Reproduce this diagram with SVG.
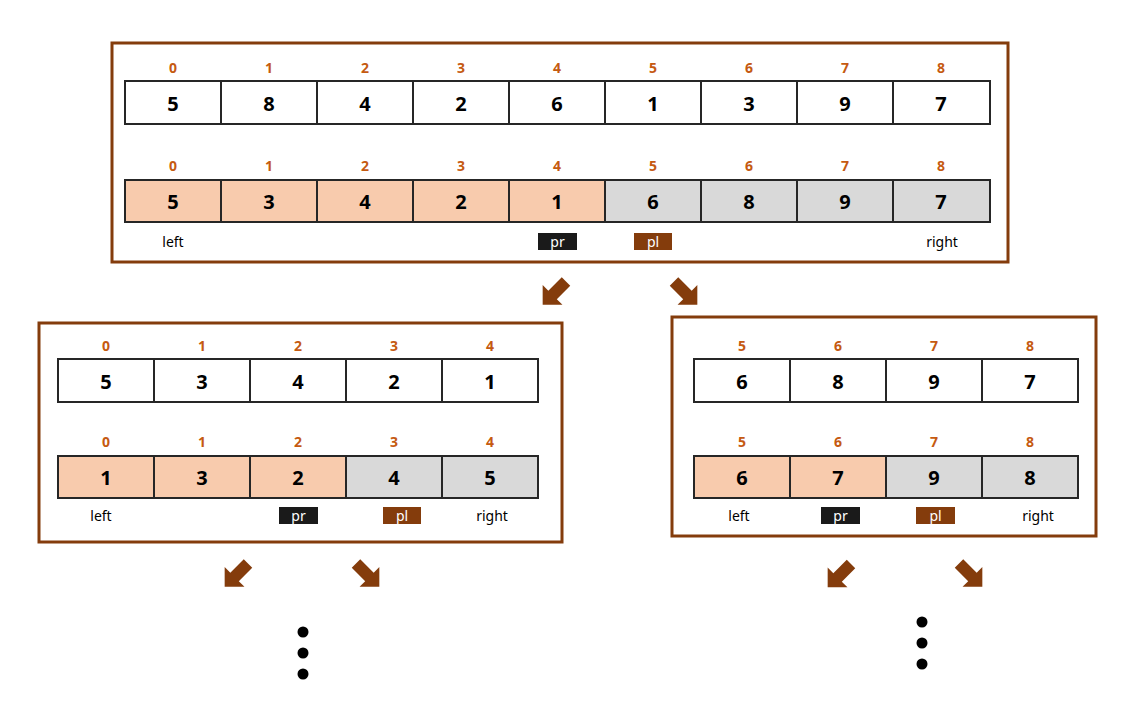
<svg xmlns="http://www.w3.org/2000/svg" width="1140" height="725" viewBox="0 0 1140 725">
<style>
.frame{fill:#fff;stroke:#843C0C;stroke-width:3}
.c{stroke:#262626;stroke-width:2}
.w{fill:#fff}.p{fill:#F8CBAD}.g{fill:#D9D9D9}
.v{font-family:"Noto Sans","DejaVu Sans",sans-serif;font-weight:bold;font-size:20px;fill:#000;text-anchor:middle}
.i{font-family:"Noto Sans","DejaVu Sans",sans-serif;font-weight:bold;font-size:14px;fill:#C55A11;text-anchor:middle}
.l{font-family:"Noto Sans","DejaVu Sans",sans-serif;font-size:14px;fill:#000;text-anchor:middle}
.t{font-family:"Noto Sans","DejaVu Sans",sans-serif;font-size:14px;fill:#fff;text-anchor:middle}
.arr{fill:#843C0C}
</style>
<defs>
<polygon id="ar" points="0,-6 19,-6 19,-14 33,0 19,14 19,6 0,6"/>
</defs>
<g id="top">
<rect class="frame" x="112" y="43" width="896" height="219"/>
<g>
<rect class="c w" x="125" y="81" width="96" height="43"/><rect class="c w" x="221" y="81" width="96" height="43"/><rect class="c w" x="317" y="81" width="96" height="43"/><rect class="c w" x="413" y="81" width="96" height="43"/><rect class="c w" x="509" y="81" width="96" height="43"/><rect class="c w" x="605" y="81" width="96" height="43"/><rect class="c w" x="701" y="81" width="96" height="43"/><rect class="c w" x="797" y="81" width="96" height="43"/><rect class="c w" x="893" y="81" width="97" height="43"/>
<text class="i" x="173" y="73">0</text><text class="i" x="269" y="73">1</text><text class="i" x="365" y="73">2</text><text class="i" x="461" y="73">3</text><text class="i" x="557" y="73">4</text><text class="i" x="653" y="73">5</text><text class="i" x="749" y="73">6</text><text class="i" x="845" y="73">7</text><text class="i" x="941" y="73">8</text>
<text class="v" x="173" y="111">5</text><text class="v" x="269" y="111">8</text><text class="v" x="365" y="111">4</text><text class="v" x="461" y="111">2</text><text class="v" x="557" y="111">6</text><text class="v" x="653" y="111">1</text><text class="v" x="749" y="111">3</text><text class="v" x="845" y="111">9</text><text class="v" x="941" y="111">7</text>
</g>
<g>
<rect class="c p" x="125" y="180" width="96" height="42"/><rect class="c p" x="221" y="180" width="96" height="42"/><rect class="c p" x="317" y="180" width="96" height="42"/><rect class="c p" x="413" y="180" width="96" height="42"/><rect class="c p" x="509" y="180" width="96" height="42"/><rect class="c g" x="605" y="180" width="96" height="42"/><rect class="c g" x="701" y="180" width="96" height="42"/><rect class="c g" x="797" y="180" width="96" height="42"/><rect class="c g" x="893" y="180" width="97" height="42"/>
<text class="i" x="173" y="171">0</text><text class="i" x="269" y="171">1</text><text class="i" x="365" y="171">2</text><text class="i" x="461" y="171">3</text><text class="i" x="557" y="171">4</text><text class="i" x="653" y="171">5</text><text class="i" x="749" y="171">6</text><text class="i" x="845" y="171">7</text><text class="i" x="941" y="171">8</text>
<text class="v" x="173" y="209">5</text><text class="v" x="269" y="209">3</text><text class="v" x="365" y="209">4</text><text class="v" x="461" y="209">2</text><text class="v" x="557" y="209">1</text><text class="v" x="653" y="209">6</text><text class="v" x="749" y="209">8</text><text class="v" x="845" y="209">9</text><text class="v" x="941" y="209">7</text>
</g>
<text class="l" x="173" y="247">left</text>
<rect x="538" y="233" width="39" height="17" fill="#1a1a1a"/><text class="t" x="557.5" y="247">pr</text>
<rect x="634" y="233" width="38" height="17" fill="#843C0C"/><text class="t" x="653" y="247">pl</text>
<text class="l" x="942" y="247">right</text>
</g>
<g id="left">
<rect class="frame" x="39" y="323" width="523" height="219"/>
<rect class="c w" x="58" y="359" width="96" height="43"/><rect class="c w" x="154" y="359" width="96" height="43"/><rect class="c w" x="250" y="359" width="96" height="43"/><rect class="c w" x="346" y="359" width="96" height="43"/><rect class="c w" x="442" y="359" width="96" height="43"/>
<text class="i" x="106" y="351">0</text><text class="i" x="202" y="351">1</text><text class="i" x="298" y="351">2</text><text class="i" x="394" y="351">3</text><text class="i" x="490" y="351">4</text>
<text class="v" x="106" y="389">5</text><text class="v" x="202" y="389">3</text><text class="v" x="298" y="389">4</text><text class="v" x="394" y="389">2</text><text class="v" x="490" y="389">1</text>
<rect class="c p" x="58" y="456" width="96" height="42"/><rect class="c p" x="154" y="456" width="96" height="42"/><rect class="c p" x="250" y="456" width="96" height="42"/><rect class="c g" x="346" y="456" width="96" height="42"/><rect class="c g" x="442" y="456" width="96" height="42"/>
<text class="i" x="106" y="447">0</text><text class="i" x="202" y="447">1</text><text class="i" x="298" y="447">2</text><text class="i" x="394" y="447">3</text><text class="i" x="490" y="447">4</text>
<text class="v" x="106" y="485">1</text><text class="v" x="202" y="485">3</text><text class="v" x="298" y="485">2</text><text class="v" x="394" y="485">4</text><text class="v" x="490" y="485">5</text>
<text class="l" x="101" y="521">left</text>
<rect x="279" y="507" width="39" height="17" fill="#1a1a1a"/><text class="t" x="298.5" y="521">pr</text>
<rect x="383" y="507" width="38" height="17" fill="#843C0C"/><text class="t" x="402" y="521">pl</text>
<text class="l" x="492" y="521">right</text>
</g>
<g id="right">
<rect class="frame" x="672" y="317" width="424" height="219"/>
<rect class="c w" x="694" y="359" width="96" height="43"/><rect class="c w" x="790" y="359" width="96" height="43"/><rect class="c w" x="886" y="359" width="96" height="43"/><rect class="c w" x="982" y="359" width="96" height="43"/>
<text class="i" x="742" y="351">5</text><text class="i" x="838" y="351">6</text><text class="i" x="934" y="351">7</text><text class="i" x="1030" y="351">8</text>
<text class="v" x="742" y="389">6</text><text class="v" x="838" y="389">8</text><text class="v" x="934" y="389">9</text><text class="v" x="1030" y="389">7</text>
<rect class="c p" x="694" y="456" width="96" height="42"/><rect class="c p" x="790" y="456" width="96" height="42"/><rect class="c g" x="886" y="456" width="96" height="42"/><rect class="c g" x="982" y="456" width="96" height="42"/>
<text class="i" x="742" y="447">5</text><text class="i" x="838" y="447">6</text><text class="i" x="934" y="447">7</text><text class="i" x="1030" y="447">8</text>
<text class="v" x="742" y="485">6</text><text class="v" x="838" y="485">7</text><text class="v" x="934" y="485">9</text><text class="v" x="1030" y="485">8</text>
<text class="l" x="739" y="521">left</text>
<rect x="821" y="507" width="39" height="17" fill="#1a1a1a"/><text class="t" x="840.5" y="521">pr</text>
<rect x="916" y="507" width="39" height="17" fill="#843C0C"/><text class="t" x="935.5" y="521">pl</text>
<text class="l" x="1038" y="521">right</text>
</g>
<g id="connectors">
<use href="#ar" class="arr" transform="translate(566,281.5) rotate(135)"/>
<use href="#ar" class="arr" transform="translate(674,281.5) rotate(45)"/>
<use href="#ar" class="arr" transform="translate(248,563.5) rotate(135)"/>
<use href="#ar" class="arr" transform="translate(356,563.5) rotate(45)"/>
<use href="#ar" class="arr" transform="translate(851,564) rotate(135)"/>
<use href="#ar" class="arr" transform="translate(959,563.5) rotate(45)"/>
</g>
<g id="dots" fill="#000">
<circle cx="303" cy="632" r="5.5"/><circle cx="303" cy="653" r="5.5"/><circle cx="303" cy="674" r="5.5"/>
<circle cx="922" cy="622" r="5.5"/><circle cx="922" cy="643" r="5.5"/><circle cx="922" cy="664" r="5.5"/>
</g>
</svg>
